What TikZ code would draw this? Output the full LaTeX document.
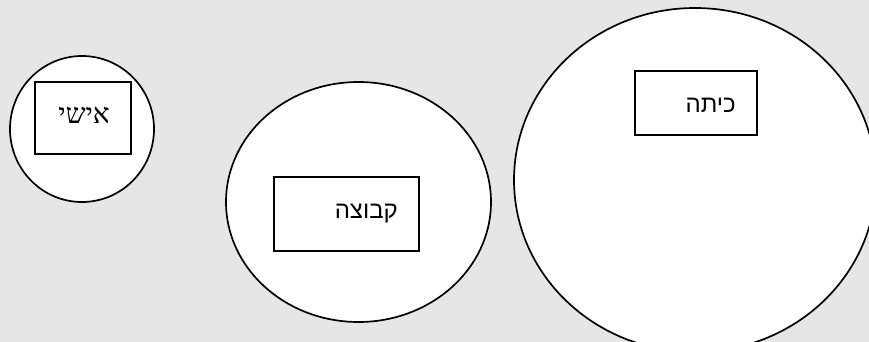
\documentclass[tikz,border=0pt]{standalone}
\usepackage{fontspec}
\usetikzlibrary{shapes.geometric}
\TeXXeTstate=1
\newfontfamily\hebserif[Script=Hebrew]{Liberation Serif}
\newfontfamily\hebsans[Script=Hebrew]{Liberation Sans}
\definecolor{bg}{HTML}{E6E6E6}
\begin{document}
\begin{tikzpicture}[x=1pt,y=-1pt,
  circ/.style={draw=black,line width=1.7pt,fill=white,ellipse,inner sep=0pt},
  tbox/.style={draw=black,line width=1.7pt,fill=white,rectangle,inner sep=0pt},
  lbl/.style={anchor=base east,inner sep=0pt,font=\fontsize{24}{28}\selectfont}]
\fill[bg] (0,0) rectangle (869,342);
\useasboundingbox (0,0) rectangle (869,342);
\begin{scope}
\clip (0,0) rectangle (869,342);
\node[circ,minimum width=144pt,minimum height=146pt] (c1) at (82,129) {};
\node[circ,minimum width=265pt,minimum height=240pt] (c2) at (358.5,202) {};
\node[circ,minimum width=362pt,minimum height=344pt] (c3) at (695,180) {};
\end{scope}
\node[tbox,minimum width=96pt,minimum height=72pt] (b1) at (83,118) {};
\node[tbox,minimum width=145pt,minimum height=74pt] (b2) at (346.5,214) {};
\node[tbox,minimum width=122pt,minimum height=64pt] (b3) at (696,103) {};
\node[lbl,font=\hebserif\fontsize{28}{30}\selectfont] (t1) at (110,123) {\beginR אישי\endR};
\node[lbl,font=\hebsans\fontsize{24}{28}\selectfont] (t2) at (398,218) {\beginR קבוצה\endR};
\node[lbl,font=\hebsans\fontsize{24}{28}\selectfont] (t3) at (736,113) {\beginR כיתה\endR};
\end{tikzpicture}
\end{document}
